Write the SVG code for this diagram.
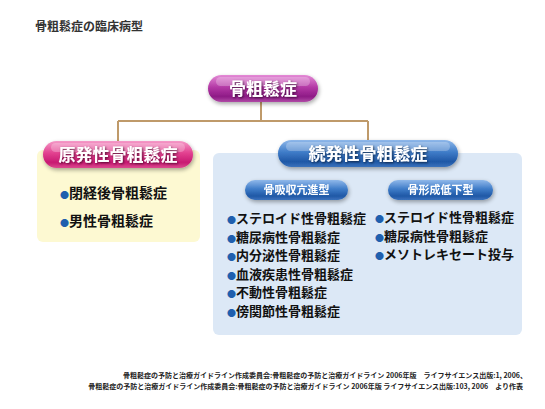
<svg xmlns="http://www.w3.org/2000/svg" width="545" height="409" viewBox="0 0 545 409">
<defs>
<linearGradient id="gPurple" x1="0" y1="0" x2="0" y2="1">
<stop offset="0" stop-color="#e48ad6"/><stop offset="0.45" stop-color="#b43aa6"/><stop offset="0.8" stop-color="#8e1a86"/><stop offset="1" stop-color="#b04aa6"/>
</linearGradient>
<linearGradient id="gPink" x1="0" y1="0" x2="0" y2="1">
<stop offset="0" stop-color="#f59ac8"/><stop offset="0.45" stop-color="#e2408f"/><stop offset="0.8" stop-color="#c81a72"/><stop offset="1" stop-color="#dc4a90"/>
</linearGradient>
<linearGradient id="gBlue" x1="0" y1="0" x2="0" y2="1">
<stop offset="0" stop-color="#8fb8ea"/><stop offset="0.45" stop-color="#3f7cc8"/><stop offset="0.8" stop-color="#1f58a6"/><stop offset="1" stop-color="#3a72bc"/>
</linearGradient>
<filter id="sh" x="-20%" y="-30%" width="140%" height="170%">
<feGaussianBlur in="SourceAlpha" stdDeviation="2"/><feOffset dx="1" dy="2" result="b"/>
<feComponentTransfer><feFuncA type="linear" slope="0.35"/></feComponentTransfer>
<feMerge><feMergeNode/><feMergeNode in="SourceGraphic"/></feMerge>
</filter>
<filter id="ts" x="-10%" y="-30%" width="120%" height="160%">
<feGaussianBlur in="SourceAlpha" stdDeviation="0.8"/><feOffset dx="1" dy="1"/>
<feComponentTransfer><feFuncA type="linear" slope="0.6"/></feComponentTransfer>
<feMerge><feMergeNode/><feMergeNode in="SourceGraphic"/></feMerge>
</filter>
</defs>
<style>
text{font-family:"Noto Sans CJK JP","Noto Sans CJK SC",sans-serif;font-weight:bold}
.pill{font-size:17px;fill:#fff;text-anchor:middle}
.sub{font-size:11px;fill:#fff;text-anchor:middle}
.item{font-size:14px;fill:#111}
.item2{font-size:13px;fill:#111}
.b{fill:#1f5fae;font-size:9px}
.hl{fill:#fff;opacity:0.25}
.conn{fill:none;stroke:#bf9a6a;stroke-width:2}
.foot{font-size:7px;fill:#222;text-anchor:end}
</style>
<rect width="545" height="409" fill="#fff"/>
<text x="35" y="31" style="font-size:12px;fill:#333">骨粗鬆症の臨床病型</text>

<g id="connectors">
<path class="conn" d="M261 100 V121 M118 121 H368 M118 121 V142 M368 121 V142"/>
</g>

<g id="box-primary">
<rect x="37" y="150" width="163" height="92" rx="6" fill="#fdf9d2"/>
</g>
<g id="box-secondary">
<rect x="213" y="153" width="309" height="182" rx="6" fill="#dce8f6"/>
</g>

<g id="node-root" filter="url(#sh)">
<rect x="208" y="75" width="110" height="27" rx="13.5" fill="url(#gPurple)"/>
<rect x="216" y="77" width="94" height="9" rx="4.5" class="hl"/>
<text x="263" y="95" class="pill" filter="url(#ts)">骨粗鬆症</text>
</g>

<g id="node-primary" filter="url(#sh)">
<rect x="43" y="141" width="150" height="27" rx="13.5" fill="url(#gPink)"/>
<rect x="51" y="143" width="134" height="9" rx="4.5" class="hl"/>
<text x="118" y="161" class="pill" filter="url(#ts)">原発性骨粗鬆症</text>
</g>

<g id="list-primary">
<text x="60" y="198" class="item"><tspan class="b">●</tspan>閉経後骨粗鬆症</text>
<text x="60" y="226" class="item"><tspan class="b">●</tspan>男性骨粗鬆症</text>
</g>

<g id="node-secondary" filter="url(#sh)">
<rect x="278" y="140" width="180" height="27" rx="13.5" fill="url(#gBlue)"/>
<rect x="286" y="142" width="164" height="9" rx="4.5" class="hl"/>
<text x="368" y="160" class="pill" filter="url(#ts)">続発性骨粗鬆症</text>
</g>

<g id="node-resorption" filter="url(#sh)">
<rect x="245" y="180" width="103" height="20" rx="10" fill="url(#gBlue)"/>
<text x="296.5" y="194" class="sub">骨吸収亢進型</text>
</g>

<g id="node-formation" filter="url(#sh)">
<rect x="388" y="180" width="105" height="20" rx="10" fill="url(#gBlue)"/>
<text x="440.5" y="194" class="sub">骨形成低下型</text>
</g>

<g id="list-resorption">
<text x="227" y="223" class="item2"><tspan class="b">●</tspan>ステロイド性骨粗鬆症</text>
<text x="227" y="241.5" class="item2"><tspan class="b">●</tspan>糖尿病性骨粗鬆症</text>
<text x="227" y="260" class="item2"><tspan class="b">●</tspan>内分泌性骨粗鬆症</text>
<text x="227" y="278.5" class="item2"><tspan class="b">●</tspan>血液疾患性骨粗鬆症</text>
<text x="227" y="297" class="item2"><tspan class="b">●</tspan>不動性骨粗鬆症</text>
<text x="227" y="315.5" class="item2"><tspan class="b">●</tspan>傍関節性骨粗鬆症</text>
</g>

<g id="list-formation">
<text x="375" y="222" class="item2"><tspan class="b">●</tspan>ステロイド性骨粗鬆症</text>
<text x="375" y="240.5" class="item2"><tspan class="b">●</tspan>糖尿病性骨粗鬆症</text>
<text x="375" y="259" class="item2"><tspan class="b">●</tspan>メソトレキセート投与</text>
</g>

<text x="527" y="378" class="foot">骨粗鬆症の予防と治療ガイドライン作成委員会:骨粗鬆症の予防と治療ガイドライン 2006年版　ライフサイエンス出版:1, 2006、</text>
<text x="523" y="389" class="foot">骨粗鬆症の予防と治療ガイドライン作成委員会:骨粗鬆症の予防と治療ガイドライン 2006年版 ライフサイエンス出版:103, 2006　より作表</text>
</svg>
